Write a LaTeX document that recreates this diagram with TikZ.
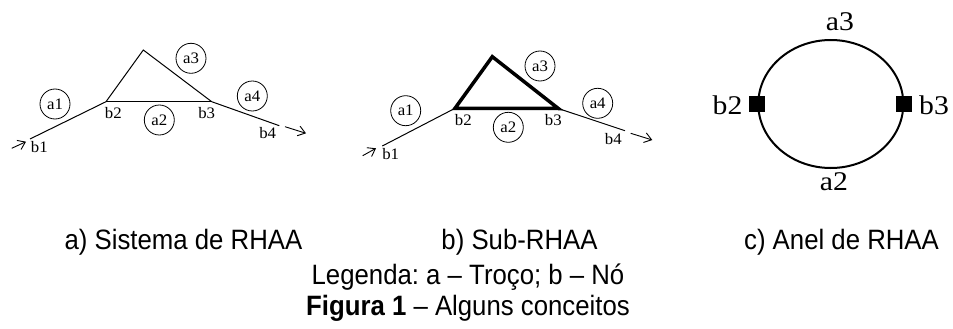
\documentclass[tikz,border=0pt]{standalone}
\usepackage{fontspec}
\setmainfont[FakeStretch=0.92]{Liberation Sans}
\newfontfamily\serifface[FakeStretch=1.05]{Liberation Serif}
\newfontfamily\anelface[FakeStretch=1.1]{Liberation Serif}
\usetikzlibrary{arrows.meta,positioning,shapes.geometric}
\frenchspacing
\tikzset{
  troco/.style={circle,draw=black,line width=.8pt,minimum size=30pt,inner sep=0pt,
                font=\serifface\fontsize{16}{16}\selectfont},
  nolbl/.style={inner sep=0pt,font=\serifface\fontsize{16}{16}\selectfont},
  rede/.style={draw=black,line width=1pt},
  subrede/.style={draw=black,line width=3.5pt,line join=miter},
  fluxo/.style={-{Straight Barb[length=7pt,width=10pt]},draw=black,line width=.9pt},
  anel/.style={ellipse,draw=black,line width=2pt,minimum width=145pt,minimum height=128pt,
               inner sep=0pt},
  noanel/.style={rectangle,fill=black,minimum size=16pt,inner sep=0pt},
  anellbl/.style={inner sep=0pt,font=\anelface\fontsize{27}{27}\selectfont},
  legenda/.style={font=\fontsize{28}{28}\selectfont,anchor=base,inner sep=0pt},
}
\begin{document}
\begin{tikzpicture}[x=1pt,y=-1pt]
  \path[use as bounding box] (0,0) rectangle (953,329);
  % a) sistema de RHAA
  \coordinate (pa1) at (30,139);
  \coordinate (pa2) at (106,101.7);
  \coordinate (pa3) at (211.7,101.7);
  \coordinate (pa4) at (279.3,125.7);
  \coordinate (pat) at (143.3,50);
  \coordinate (ea0) at (11.7,148.3);
  \coordinate (ea1) at (26,141.7);
  \coordinate (fa0) at (285,126.7);
  \coordinate (fa1) at (306,133.3);
  \draw[rede] (pa1) -- (pa2) -- (pat) -- (pa3) -- (pa4);
  \draw[rede] (pa2) -- (pa3);
  \draw[fluxo] (ea0) -- (ea1);
  \draw[fluxo] (fa0) -- (fa1);
  \foreach \n/\x/\y in {a1/55/104,a2/159.3/120,a3/191/58.3,a4/252.3/96}
    {\node[troco] (sa-\n) at (\x,\y) {\n};}
  \foreach \n/\x/\y in {b1/39.3/147.3,b2/113.3/112.7,b3/206.7/112.7,b4/267.7/133.3}
    {\node[nolbl] (la-\n) at (\x,\y) {\n};}
  % b) sub-RHAA
  \coordinate (pb1) at (382.3,146);
  \coordinate (pb2) at (455,108.3);
  \coordinate (pb3) at (558.3,108.5);
  \coordinate (pb4) at (625,130.7);
  \coordinate (pbt) at (492.3,56.7);
  \coordinate (eb0) at (362.7,155.7);
  \coordinate (eb1) at (376,148.3);
  \coordinate (fb0) at (630.7,133.3);
  \coordinate (fb1) at (652.3,140);
  \draw[rede] (pb1) -- (pb2);
  \draw[rede] (pb3) -- (pb4);
  \draw[subrede] (pb2) -- (pbt) -- (pb3) -- cycle;
  \draw[fluxo] (eb0) -- (eb1);
  \draw[fluxo] (fb0) -- (fb1);
  \foreach \n/\x/\y in {a1/405.7/110.7,a2/508.3/127.3,a3/540/66,a4/597.7/103.3}
    {\node[troco] (sb-\n) at (\x,\y) {\n};}
  \foreach \n/\x/\y in {b1/390.7/154.3,b2/463.3/120,b3/553.3/120,b4/613.3/139}
    {\node[nolbl] (lb-\n) at (\x,\y) {\n};}
  % c) anel de RHAA
  \node[anel] (ring) at (830.8,104) {};
  \node[noanel] (nb2) at (ring.west) {};
  \node[noanel] (nb3) at (ring.east) {};
  \node[anellbl] (lc-b2) at (727.5,105) {b2};
  \node[anellbl] (lc-b3) at (934,105) {b3};
  \node[anellbl] (lc-a3) at (840,21.7) {a3};
  \node[anellbl] (lc-a2) at (834,182) {a2};
  % legendas
  \node[legenda] (capa) at (183.5,249) {a) Sistema de RHAA};
  \node[legenda] (capb) at (519.5,249) {b) Sub-RHAA};
  \node[legenda] (capc) at (841.5,249) {c) Anel de RHAA};
  \node[legenda] (leg) at (468,284) {Legenda: a -- Troço; b -- Nó};
  \node[legenda] (fig) at (468,315) {\textbf{Figura 1} -- Alguns conceitos};
\end{tikzpicture}
\end{document}
